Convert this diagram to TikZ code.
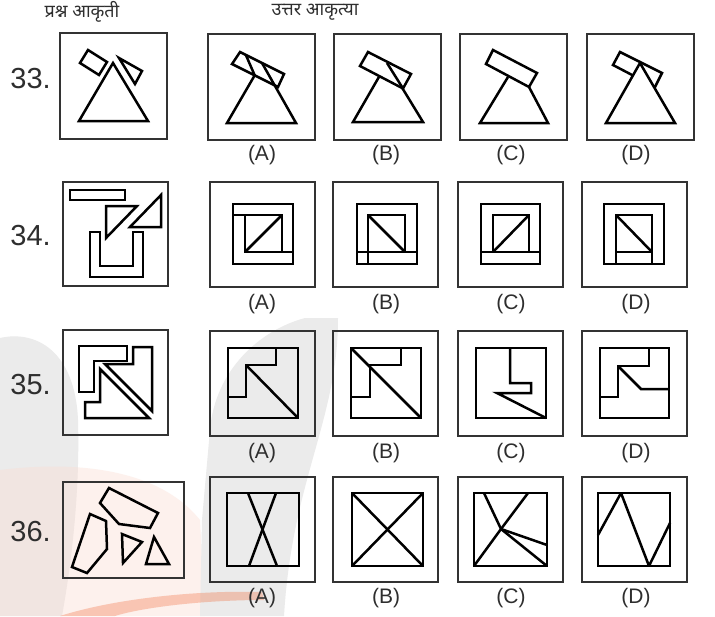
\documentclass[tikz,border=0pt]{standalone}
\usepackage{fontspec}
\setmainfont{Liberation Sans}
\newfontfamily\deva[Script=Devanagari]{Noto Sans}
\definecolor{boxgray}{HTML}{333333}
\definecolor{numgray}{HTML}{2E2E2E}
\definecolor{wmg}{HTML}{EBEBEB}
\definecolor{wmpink}{HTML}{FADCD2}
\definecolor{wmred}{HTML}{F0602E}
\begin{document}
\begin{tikzpicture}[x=1pt,y=-1pt,
  box/.style={draw=boxgray,line width=2.2pt},
  fig/.style={draw=black,line width=2.5pt,line join=miter},
  num/.style={text=numgray,font=\fontsize{29}{30}\selectfont,inner sep=0pt,anchor=east},
  lab/.style={text=numgray,font=\fontsize{21}{22}\selectfont,inner sep=0pt},
  hdr/.style={text=numgray,font=\deva\fontsize{18}{19}\selectfont,inner sep=0pt}]
\useasboundingbox (0,0) rectangle (715,616);
\fill[white] (0,0) rectangle (715,616);
% ---- faint watermark ----
\fill[wmg] (0,338) .. controls (35,330) and (75,350) .. (78,420) .. controls (80,490) and (72,560) .. (62,616) -- (0,616) -- cycle;
\fill[wmpink,opacity=.4] (0,470) .. controls (80,460) and (160,470) .. (200,520) -- (205,616) -- (0,616) -- cycle;
\fill[wmg] (210,430) .. controls (215,370) and (260,330) .. (305,318) -- (338,318) .. controls (338,420) and (292,480) .. (284,616) -- (200,616) -- (202,520) -- cycle;
\fill[wmred,opacity=.3] (60,616) .. controls (110,600) and (190,590) .. (262,592) -- (264,600) .. controls (200,600) and (140,608) .. (115,616) -- cycle;
% ---- header ----
\node[hdr] (h1) at (82,12) {प्रश्न आकृती};
\node[hdr] (h2) at (315,12) {उत्तर आकृत्या};
% ---- row numbers ----
\node[num] (n33) at (51,79) {33.};
\node[num] (n34) at (51,236) {34.};
\node[num] (n35) at (51,385) {35.};
\node[num] (n36) at (51,532) {36.};
% ---- option labels ----
\foreach \r/\y in {33/155,34/304,35/453,36/598}{
  \node[lab] (a\r) at (262,\y) {(A)};
  \node[lab] (b\r) at (386,\y) {(B)};
  \node[lab] (c\r) at (511,\y) {(C)};
  \node[lab] (d\r) at (636,\y) {(D)};
}
% ================= ROW 33 =================
\draw[box] (60,33) rectangle (167,139);
\draw[fig] (88,50) -- (107,62) -- (99,75) -- (80,63) -- cycle;
\draw[fig] (113,63) -- (148,121) -- (79,121) -- cycle;
\draw[fig] (119,58) -- (142,71) -- (135,84) -- cycle;
% A
\draw[box] (208,34) rectangle (315,140);
\draw[fig] (240,52) -- (284,74) -- (278,87) -- (232,64) -- cycle;
\draw[fig] (262,63) -- (296,123) -- (227,123) -- (254.7,75.3);
\draw[fig] (245.7,54.6) -- (254.7,75.3);
% B
\draw[box] (334,34) rectangle (441,140);
\draw[fig] (387,63) -- (423,122) -- (353,122) -- cycle;
\filldraw[fig,fill=white] (368,52) -- (411,74) -- (403,88.5) -- (360,66) -- cycle;
\draw[fig] (387,63) -- (403,88.5);
% C
\draw[box] (460,34) rectangle (567,140);
\draw[fig] (493,50) -- (537,73) -- (529,87) -- (486,64) -- cycle;
\draw[fig] (508,77) -- (480,123) -- (548,123) -- (529,87);
% D
\draw[box] (587,34) rectangle (694,140);
\draw[fig] (620,52) -- (662,73) -- (655,87) -- (613,65) -- cycle;
\filldraw[fig,fill=white] (640,63) -- (675,123) -- (606,123) -- cycle;
% ================= ROW 34 =================
\draw[box] (63,182) rectangle (168,286);
\draw[fig] (70,190) rectangle (125,200);
\draw[fig] (106,206) -- (137,206) -- (106,238) -- cycle;
\draw[fig] (161,195) -- (161,227) -- (130,227) -- cycle;
\draw[fig] (90,232) -- (100,232) -- (100,266) -- (133,266) -- (133,232) -- (143,232) -- (143,277) -- (90,277) -- cycle;
% A
\draw[box] (210,182) rectangle (315,287);
\draw[fig] (233,204) rectangle (293,264);
\draw[fig] (233,215) -- (282,215) -- (282,252);
\draw[fig] (245,215) -- (245,252) -- (293,252);
\draw[fig] (245,252) -- (282,215);
% B
\draw[box] (333,182) rectangle (438,287);
\draw[fig] (357,204) rectangle (417,264);
\draw[fig] (368,264) -- (368,215) -- (405,215) -- (405,252);
\draw[fig] (357,252) -- (417,252);
\draw[fig] (368,215) -- (405,252);
% C
\draw[box] (458,182) rectangle (563,287);
\draw[fig] (481,204) rectangle (540,264);
\draw[fig] (481,252) -- (540,252);
\draw[fig] (493,252) -- (493,215) -- (529,215) -- (529,252);
\draw[fig] (493,252) -- (529,215);
% D
\draw[box] (582,182) rectangle (687,287);
\draw[fig] (604,204) rectangle (664,264);
\draw[fig] (616,264) -- (616,215) -- (652,215) -- (652,264);
\draw[fig] (616,252) -- (652,252);
\draw[fig] (616,215) -- (652,252);
% ================= ROW 35 =================
\draw[box] (63,330) rectangle (168,435);
\draw[fig] (79,346) -- (127,346) -- (127,361) -- (94,361) -- (94,392) -- (79,392) -- cycle;
\draw[fig] (105,364) -- (133,364) -- (133,347) -- (152,347) -- (152,411) -- cycle;
\draw[fig] (100,369) -- (149,418) -- (85,418) -- (85,402) -- (100,402) -- cycle;
% A
\draw[box] (210,331) rectangle (315,436);
\draw[fig] (228,348) rectangle (298,418);
\draw[fig] (276,348) -- (276,365) -- (246,365) -- (246,397) -- (228,397);
\draw[fig] (246,365) -- (298,418);
% B
\draw[box] (333,331) rectangle (438,436);
\draw[fig] (351,348) rectangle (421,418);
\draw[fig] (401,348) -- (401,365) -- (370,365) -- (370,397) -- (351,397);
\draw[fig] (351,348) -- (421,418);
% C
\draw[box] (458,331) rectangle (563,436);
\draw[fig] (476,348) rectangle (546,418);
\draw[fig] (510,348) -- (510,383) -- (531,383) -- (531,393) -- (497,393) -- (546,418);
% D
\draw[box] (582,331) rectangle (687,436);
\draw[fig] (600,348) rectangle (669,418);
\draw[fig] (649,348) -- (649,366) -- (618,366) -- (618,397) -- (600,397);
\draw[fig] (618,366) -- (641,389) -- (669,389);
% ================= ROW 36 =================
\draw[box] (63,482) rectangle (184,578);
\draw[fig] (109,488) -- (158,513) -- (150,528) -- (119,524) -- (100,503) -- cycle;
\draw[fig] (90,514) -- (106,521) -- (107,549) -- (87,573) -- (72,567) -- cycle;
\draw[fig] (122,534) -- (142,542) -- (123,563) -- cycle;
\draw[fig] (154,537) -- (169,564) -- (146,564) -- cycle;
% A
\draw[box] (210,477) rectangle (315,582);
\draw[fig] (227,493) rectangle (299,566);
\draw[fig] (248,493) -- (277,566);
\draw[fig] (276,493) -- (249,566);
% B
\draw[box] (333,477) rectangle (438,582);
\draw[fig] (352,493) rectangle (423,566);
\draw[fig] (352,493) -- (423,566);
\draw[fig] (423,493) -- (352,566);
% C
\draw[box] (458,477) rectangle (563,582);
\draw[fig] (474,493) rectangle (547,566);
\coordinate (cc) at (501,529);
\draw[fig] (474,566) -- (cc) -- (528,493);
\draw[fig] (484,493) -- (cc) -- (547,545);
\draw[fig] (cc) -- (547,566);
% D
\draw[box] (582,477) rectangle (687,582);
\draw[fig] (598,493) rectangle (670,566);
\draw[fig,line join=bevel] (598,535) -- (621,493) -- (649,566) -- (670,523);
\end{tikzpicture}
\end{document}
